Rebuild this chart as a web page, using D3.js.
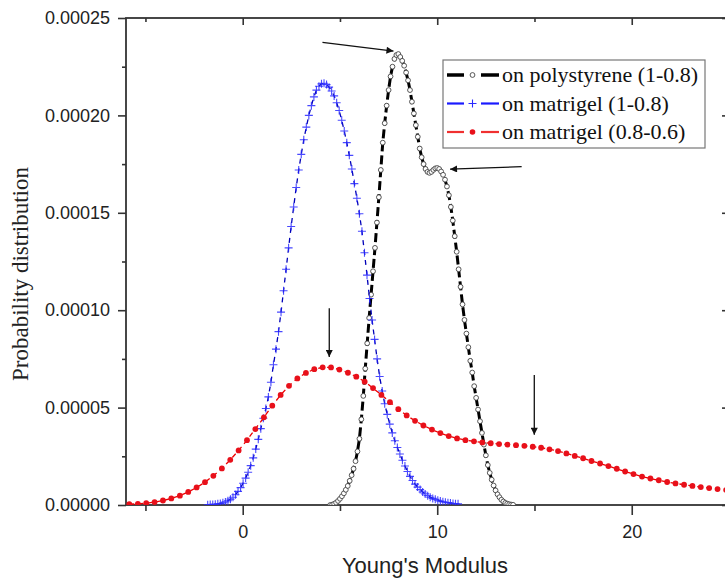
<!DOCTYPE html>
<html>
<head>
<meta charset="utf-8">
<style>
  body { margin: 0; background: #fff; }
  svg { display: block; }
  .tick text { font-family: "Liberation Sans", Arial, sans-serif; font-size: 18px; fill: #222; }
  .tick line { stroke: #333; stroke-width: 1.6px; }
  .frame { fill: none; stroke: #333; stroke-width: 1.8px; }
  .legend text { font-family: "Liberation Serif", "Times New Roman", serif; font-size: 22px; fill: #111; }
</style>
</head>
<body>
<script src="https://d3js.org/d3.v7.min.js"></script>
<script>
// values in units of 1e-5
var polyX = [4.5,4.6,4.7,4.8,4.9,5.0,5.1,5.2,5.3,5.4,5.5,5.6,5.7,5.8,5.9,6.0,6.1,6.2,6.3,6.4,6.5,6.6,6.7,6.8,6.9,7.0,7.1,7.2,7.3,7.4,7.5,7.6,7.7,7.8,7.9,8.0,8.1,8.2,8.3,8.4,8.5,8.6,8.7,8.8,8.9,9.0,9.1,9.2,9.3,9.4,9.5,9.6,9.7,9.8,9.9,10.0,10.1,10.2,10.3,10.4,10.5,10.6,10.7,10.8,10.9,11.0,11.1,11.2,11.3,11.4,11.5,11.6,11.7,11.8,11.9,12.0,12.1,12.2,12.3,12.4,12.5,12.6,12.7,12.8,12.9,13.0,13.1,13.2,13.3,13.4,13.5,13.6,13.7,13.8,13.9];
var polyY = [0.00,0.02,0.06,0.12,0.21,0.32,0.45,0.60,0.78,0.98,1.24,1.53,1.86,2.25,2.75,3.40,4.40,5.60,7.00,8.30,9.60,10.80,12.00,13.20,14.50,15.80,17.20,18.60,19.60,20.50,21.30,22.00,22.50,22.90,23.10,23.15,23.00,22.80,22.55,22.20,21.80,21.30,20.70,20.10,19.50,18.90,18.30,17.85,17.50,17.25,17.10,17.05,17.10,17.20,17.28,17.30,17.25,17.12,16.95,16.70,16.35,15.90,15.30,14.60,13.80,13.00,12.10,11.20,10.30,9.50,8.80,8.10,7.40,6.80,6.10,5.50,4.90,4.30,3.70,3.10,2.55,2.05,1.65,1.30,1.00,0.75,0.55,0.40,0.27,0.18,0.11,0.07,0.04,0.02,0.01];

var matX = [-1.80,-1.67,-1.54,-1.41,-1.28,-1.15,-1.02,-0.89,-0.76,-0.63,-0.50,-0.37,-0.24,-0.11,0.02,0.15,0.28,0.41,0.54,0.67,0.80,0.93,1.06,1.19,1.32,1.45,1.58,1.71,1.84,1.97,2.10,2.23,2.36,2.49,2.62,2.75,2.88,3.01,3.14,3.27,3.40,3.53,3.66,3.79,3.92,4.05,4.18,4.31,4.44,4.57,4.70,4.83,4.96,5.09,5.22,5.35,5.48,5.61,5.74,5.87,6.00,6.13,6.26,6.39,6.52,6.65,6.78,6.91,7.04,7.17,7.30,7.43,7.56,7.69,7.82,7.95,8.08,8.21,8.34,8.47,8.60,8.73,8.86,8.99,9.12,9.25,9.38,9.51,9.64,9.77,9.90,10.03,10.16,10.29,10.42,10.55,10.68,10.81,10.94,11.07];
var matY = [0.01,0.02,0.03,0.04,0.06,0.08,0.11,0.16,0.22,0.30,0.40,0.53,0.70,0.89,1.12,1.38,1.68,2.02,2.42,2.87,3.37,3.92,4.45,4.95,5.55,6.30,7.20,8.00,8.90,9.90,11.00,12.10,13.20,14.30,15.30,16.30,17.20,18.00,18.75,19.40,20.00,20.50,20.95,21.30,21.50,21.62,21.65,21.58,21.45,21.25,21.00,20.65,20.25,19.75,19.20,18.60,17.95,17.25,16.50,15.75,14.95,14.05,12.95,11.80,10.60,9.50,8.50,7.50,6.60,5.85,5.20,4.65,4.15,3.70,3.30,2.95,2.62,2.30,2.00,1.72,1.47,1.26,1.07,0.92,0.79,0.67,0.57,0.48,0.40,0.34,0.29,0.24,0.20,0.17,0.14,0.12,0.10,0.08,0.07,0.06];

var mat2X = [-5.83,-5.39,-4.96,-4.53,-4.10,-3.67,-3.23,-2.80,-2.37,-1.94,-1.51,-1.07,-0.64,-0.21,0.22,0.65,1.09,1.52,1.95,2.38,2.81,3.25,3.68,4.11,4.54,4.97,5.41,5.84,6.27,6.70,7.13,7.57,8.00,8.43,8.86,9.29,9.73,10.16,10.59,11.02,11.45,11.89,12.32,12.75,13.18,13.61,14.05,14.48,14.91,15.34,15.77,16.21,16.64,17.07,17.50,17.93,18.37,18.80,19.23,19.66,20.09,20.53,20.96,21.39,21.82,22.25,22.69,23.12,23.55,23.98,24.41,24.85];
var mat2Y = [0.04,0.06,0.09,0.15,0.23,0.34,0.48,0.67,0.90,1.17,1.50,1.88,2.32,2.80,3.33,3.90,4.50,5.10,5.65,6.12,6.50,6.78,6.97,7.07,7.06,6.95,6.79,6.59,6.33,6.00,5.65,5.28,4.92,4.60,4.32,4.08,3.87,3.69,3.54,3.42,3.33,3.27,3.21,3.17,3.13,3.10,3.07,3.04,2.99,2.94,2.86,2.77,2.65,2.52,2.40,2.26,2.13,2.00,1.86,1.72,1.59,1.46,1.36,1.27,1.18,1.11,1.04,0.98,0.92,0.87,0.82,0.77];

var xMajor = [0, 10, 20];
var xMinor = [-5, 5, 15, 25];
var yMajor = [0, 5, 10, 15, 20, 25];
var yMinor = [2.5, 7.5, 12.5, 17.5, 22.5];
var seriesNames = ["on polystyrene (1-0.8)", "on matrigel (1-0.8)", "on matrigel (0.8-0.6)"];
// annotation arrows [x1, y1, x2, y2] in data units
var arrows = [[4.1, 23.75, 7.75, 23.3], [14.34, 17.37, 10.66, 17.24], [4.45, 10.1, 4.45, 7.6], [14.99, 6.67, 14.99, 3.6]];

var margin = {top: 18, left: 126},
    width = 603, height = 487;

var svg = d3.select("body").append("svg")
    .attr("width", 725)
    .attr("height", 581);

var defs = svg.append("defs");
defs.append("clipPath").attr("id", "plotclip")
  .append("rect").attr("x", 0).attr("y", -6).attr("width", width).attr("height", height + 6);
defs.append("marker")
    .attr("id", "head")
    .attr("viewBox", "0 -5 10 10")
    .attr("refX", 10).attr("refY", 0)
    .attr("markerWidth", 12).attr("markerHeight", 7)
    .attr("markerUnits", "userSpaceOnUse")
    .attr("orient", "auto")
  .append("path").attr("d", "M0,-5L10,0L0,5Z").attr("fill", "#111");

var g = svg.append("g")
    .attr("transform", "translate(" + margin.left + "," + margin.top + ")");

var x = d3.scaleLinear().domain([-6, 25]).range([0, width]);
var y = d3.scaleLinear().domain([0, 25]).range([height, 0]);

var fmt = function(d) { return (d * 1e-5).toFixed(5); };

// axes
function clean(sel) { sel.select(".domain").remove(); }
g.append("g").attr("transform", "translate(0," + height + ")")
  .call(d3.axisBottom(x).tickValues(xMajor).tickSize(10).tickPadding(10)).call(clean);
g.append("g").attr("transform", "translate(0," + height + ")")
  .call(d3.axisBottom(x).tickValues(xMinor).tickSize(6).tickFormat("")).call(clean);
g.append("g").call(d3.axisTop(x).tickValues(xMajor).tickSize(-7).tickFormat("")).call(clean);
g.append("g").call(d3.axisTop(x).tickValues(xMinor).tickSize(-4).tickFormat("")).call(clean);

g.append("g").call(d3.axisLeft(y).tickValues(yMajor).tickSize(8).tickPadding(8).tickFormat(fmt)).call(clean);
g.append("g").call(d3.axisLeft(y).tickValues(yMinor).tickSize(4).tickFormat("")).call(clean);
g.append("g").attr("transform", "translate(" + width + ",0)")
  .call(d3.axisRight(y).tickValues(yMajor).tickSize(-7).tickFormat("")).call(clean);
g.append("g").attr("transform", "translate(" + width + ",0)")
  .call(d3.axisRight(y).tickValues(yMinor).tickSize(-4).tickFormat("")).call(clean);

g.selectAll(".tick text").attr("fill", "#222");

g.append("rect").attr("class", "frame")
  .attr("width", width).attr("height", height);

// series
var plot = g.append("g").attr("clip-path", "url(#plotclip)");
var line = d3.line().x(function(d) { return x(d[0]); }).y(function(d) { return y(d[1]); });

var poly = d3.zip(polyX, polyY),
    mat = d3.zip(matX, matY),
    mat2 = d3.zip(mat2X, mat2Y);

plot.append("path").datum(poly).attr("d", line)
  .attr("fill", "none").attr("stroke", "#000").attr("stroke-width", 3).attr("stroke-dasharray", "9,4");
plot.append("g").selectAll("circle").data(poly).enter().append("circle")
  .attr("cx", function(d) { return x(d[0]); }).attr("cy", function(d) { return y(d[1]); })
  .attr("r", 2.4).attr("fill", "#fff").attr("stroke", "#444").attr("stroke-width", 0.9);

plot.append("path").datum(mat).attr("d", line)
  .attr("fill", "none").attr("stroke", "#0000b8").attr("stroke-width", 1.3).attr("stroke-dasharray", "5,5");
plot.append("g").selectAll("path").data(mat).enter().append("path")
  .attr("transform", function(d) { return "translate(" + x(d[0]) + "," + y(d[1]) + ")"; })
  .attr("d", "M-4,0H4M0,-4V4")
  .attr("stroke", "#2a2aff").attr("stroke-width", 1.1).attr("opacity", 0.85);

plot.append("path").datum(mat2).attr("d", line)
  .attr("fill", "none").attr("stroke", "#e00").attr("stroke-width", 1.3).attr("stroke-dasharray", "5,4");
plot.append("g").selectAll("circle").data(mat2).enter().append("circle")
  .attr("cx", function(d) { return x(d[0]); }).attr("cy", function(d) { return y(d[1]); })
  .attr("r", 2.9).attr("fill", "#e8101a");

// arrows
g.append("g").selectAll("line").data(arrows).enter().append("line")
  .attr("x1", function(d) { return x(d[0]); }).attr("y1", function(d) { return y(d[1]); })
  .attr("x2", function(d) { return x(d[2]); }).attr("y2", function(d) { return y(d[3]); })
  .attr("stroke", "#111").attr("stroke-width", 1.3).attr("marker-end", "url(#head)");

// legend
var legend = svg.append("g").attr("class", "legend").attr("transform", "translate(443,60)");
legend.append("rect").attr("width", 262).attr("height", 88)
  .attr("fill", "#fff").attr("stroke", "#777").attr("stroke-width", 1.2);
var rows = [
  {stroke: "#000", w: 3.5, mark: "circle"},
  {stroke: "#1a1aff", w: 2.2, mark: "plus"},
  {stroke: "#f03030", w: 2.2, mark: "dot"}
];
rows.forEach(function(r, i) {
  var ly = 15 + i * 28.5;
  var row = legend.append("g").attr("transform", "translate(0," + ly + ")");
  row.append("line").attr("x1", 4).attr("x2", 21).attr("stroke", r.stroke).attr("stroke-width", r.w);
  row.append("line").attr("x1", 38).attr("x2", 56).attr("stroke", r.stroke).attr("stroke-width", r.w);
  if (r.mark == "circle") {
    row.append("circle").attr("cx", 29.5).attr("r", 2.4).attr("fill", "#fff").attr("stroke", "#444").attr("stroke-width", 0.9);
  } else if (r.mark == "plus") {
    row.append("path").attr("transform", "translate(29.5,0)").attr("d", "M-4,0H4M0,-4V4").attr("stroke", "#2a2aff").attr("stroke-width", 1.1);
  } else {
    row.append("circle").attr("cx", 29.5).attr("r", 2.8).attr("fill", "#e8101a");
  }
  row.append("text").attr("x", 59).attr("dy", "0.33em").text(seriesNames[i]);
});

// titles
svg.append("text")
  .attr("x", 425).attr("y", 573)
  .attr("text-anchor", "middle")
  .style("font-family", "'Liberation Sans', Arial, sans-serif")
  .style("font-size", "22px").attr("fill", "#222")
  .text("Young's Modulus");
svg.append("text")
  .attr("transform", "translate(28,274) rotate(-90)")
  .attr("text-anchor", "middle")
  .style("font-family", "'Liberation Serif', 'Times New Roman', serif")
  .style("font-size", "23px").attr("fill", "#222")
  .text("Probability distribution");
</script>
</body>
</html>
